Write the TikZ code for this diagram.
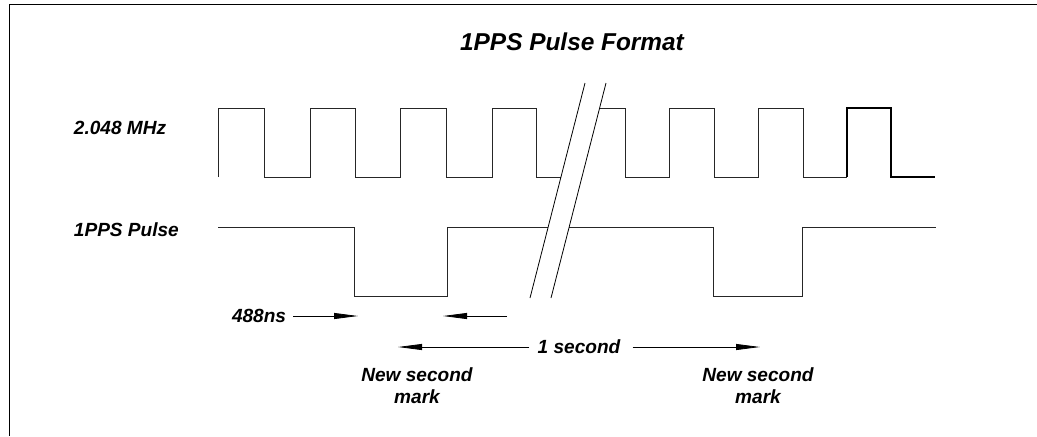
\documentclass[tikz,border=0pt]{standalone}
\usepackage{fontspec}
\setmainfont{Liberation Sans}
\usetikzlibrary{arrows.meta}
\begin{document}
\begin{tikzpicture}[x=0.75pt,y=-0.75pt,
		wave/.style={line width=0.6pt,draw=black!85},
		arr/.style={line width=0.6pt,-{Triangle[length=18pt,width=4.5pt]}},
		lbl/.style={font=\fontsize{14.3}{16.5}\selectfont\bfseries\itshape,inner sep=2pt},
		secmark/.style={lbl,align=center}]
			\useasboundingbox (0,0) rectangle (1037,436);
			\draw[line width=0.6pt] (1037,4) -- (9,4) -- (9,436);
			\node[font=\fontsize{18.3}{20}\selectfont\bfseries\itshape](title)
			at (572,42) {1PPS Pulse Format};
			\node[lbl,anchor=west](clk) at (71,128) {2.048 MHz};
			\node[lbl,anchor=west](pps) at (71,230) {1PPS Pulse};
			\draw[wave] (218,177) -- (218,108) -- (264,108) -- (264,177) -- (310,177)
				-- (310,108) -- (355,108) -- (355,177) -- (400,177) -- (400,108)
				-- (446,108) -- (446,177) -- (492,177) -- (492,108) -- (536,108)
				-- (536,177) -- (561,177);
			\draw[wave] (600,108) -- (625,108) -- (625,177) -- (669,177) -- (669,108)
				-- (714,108) -- (714,177) -- (758,177) -- (758,108) -- (803,108)
				-- (803,177) -- (847,177);
			\draw[line width=0.8pt] (847,177) -- (847,108) -- (891,108) -- (891,177) -- (935,177);
			\draw[wave] (218,227) -- (354,227) -- (354,296) -- (447,296) -- (447,227) -- (548,227);
			\draw[wave] (569,227) -- (713,227) -- (713,296) -- (802,296) -- (802,227) -- (936,227);
			\draw[line width=0.6pt] (585,83) -- (530,298);
			\draw[line width=0.6pt] (606,83) -- (551,298);
			\node[lbl,anchor=east](ns) at (289,316) {488ns};
			\coordinate (nsTip) at (358,316);
			\coordinate (nsEnd) at (507,316);
			\coordinate (nsBack) at (443,316);
			\draw[arr] ([xshift=3pt]ns.east) -- (nsTip);
			\draw[arr] (nsEnd) -- (nsBack);
			\node[lbl](sec) at (579,347) {1 second};
			\coordinate (secL) at (398,347);
			\coordinate (secR) at (760,347);
			\draw[arr] ([xshift=-4pt]sec.west) -- (secL);
			\draw[arr] ([xshift=7pt]sec.east) -- (secR);
			\node[secmark](markL) at (417,386) {New second\\mark};
			\node[secmark](markR) at (758,386) {New second\\mark};
		\end{tikzpicture}
\end{document}
